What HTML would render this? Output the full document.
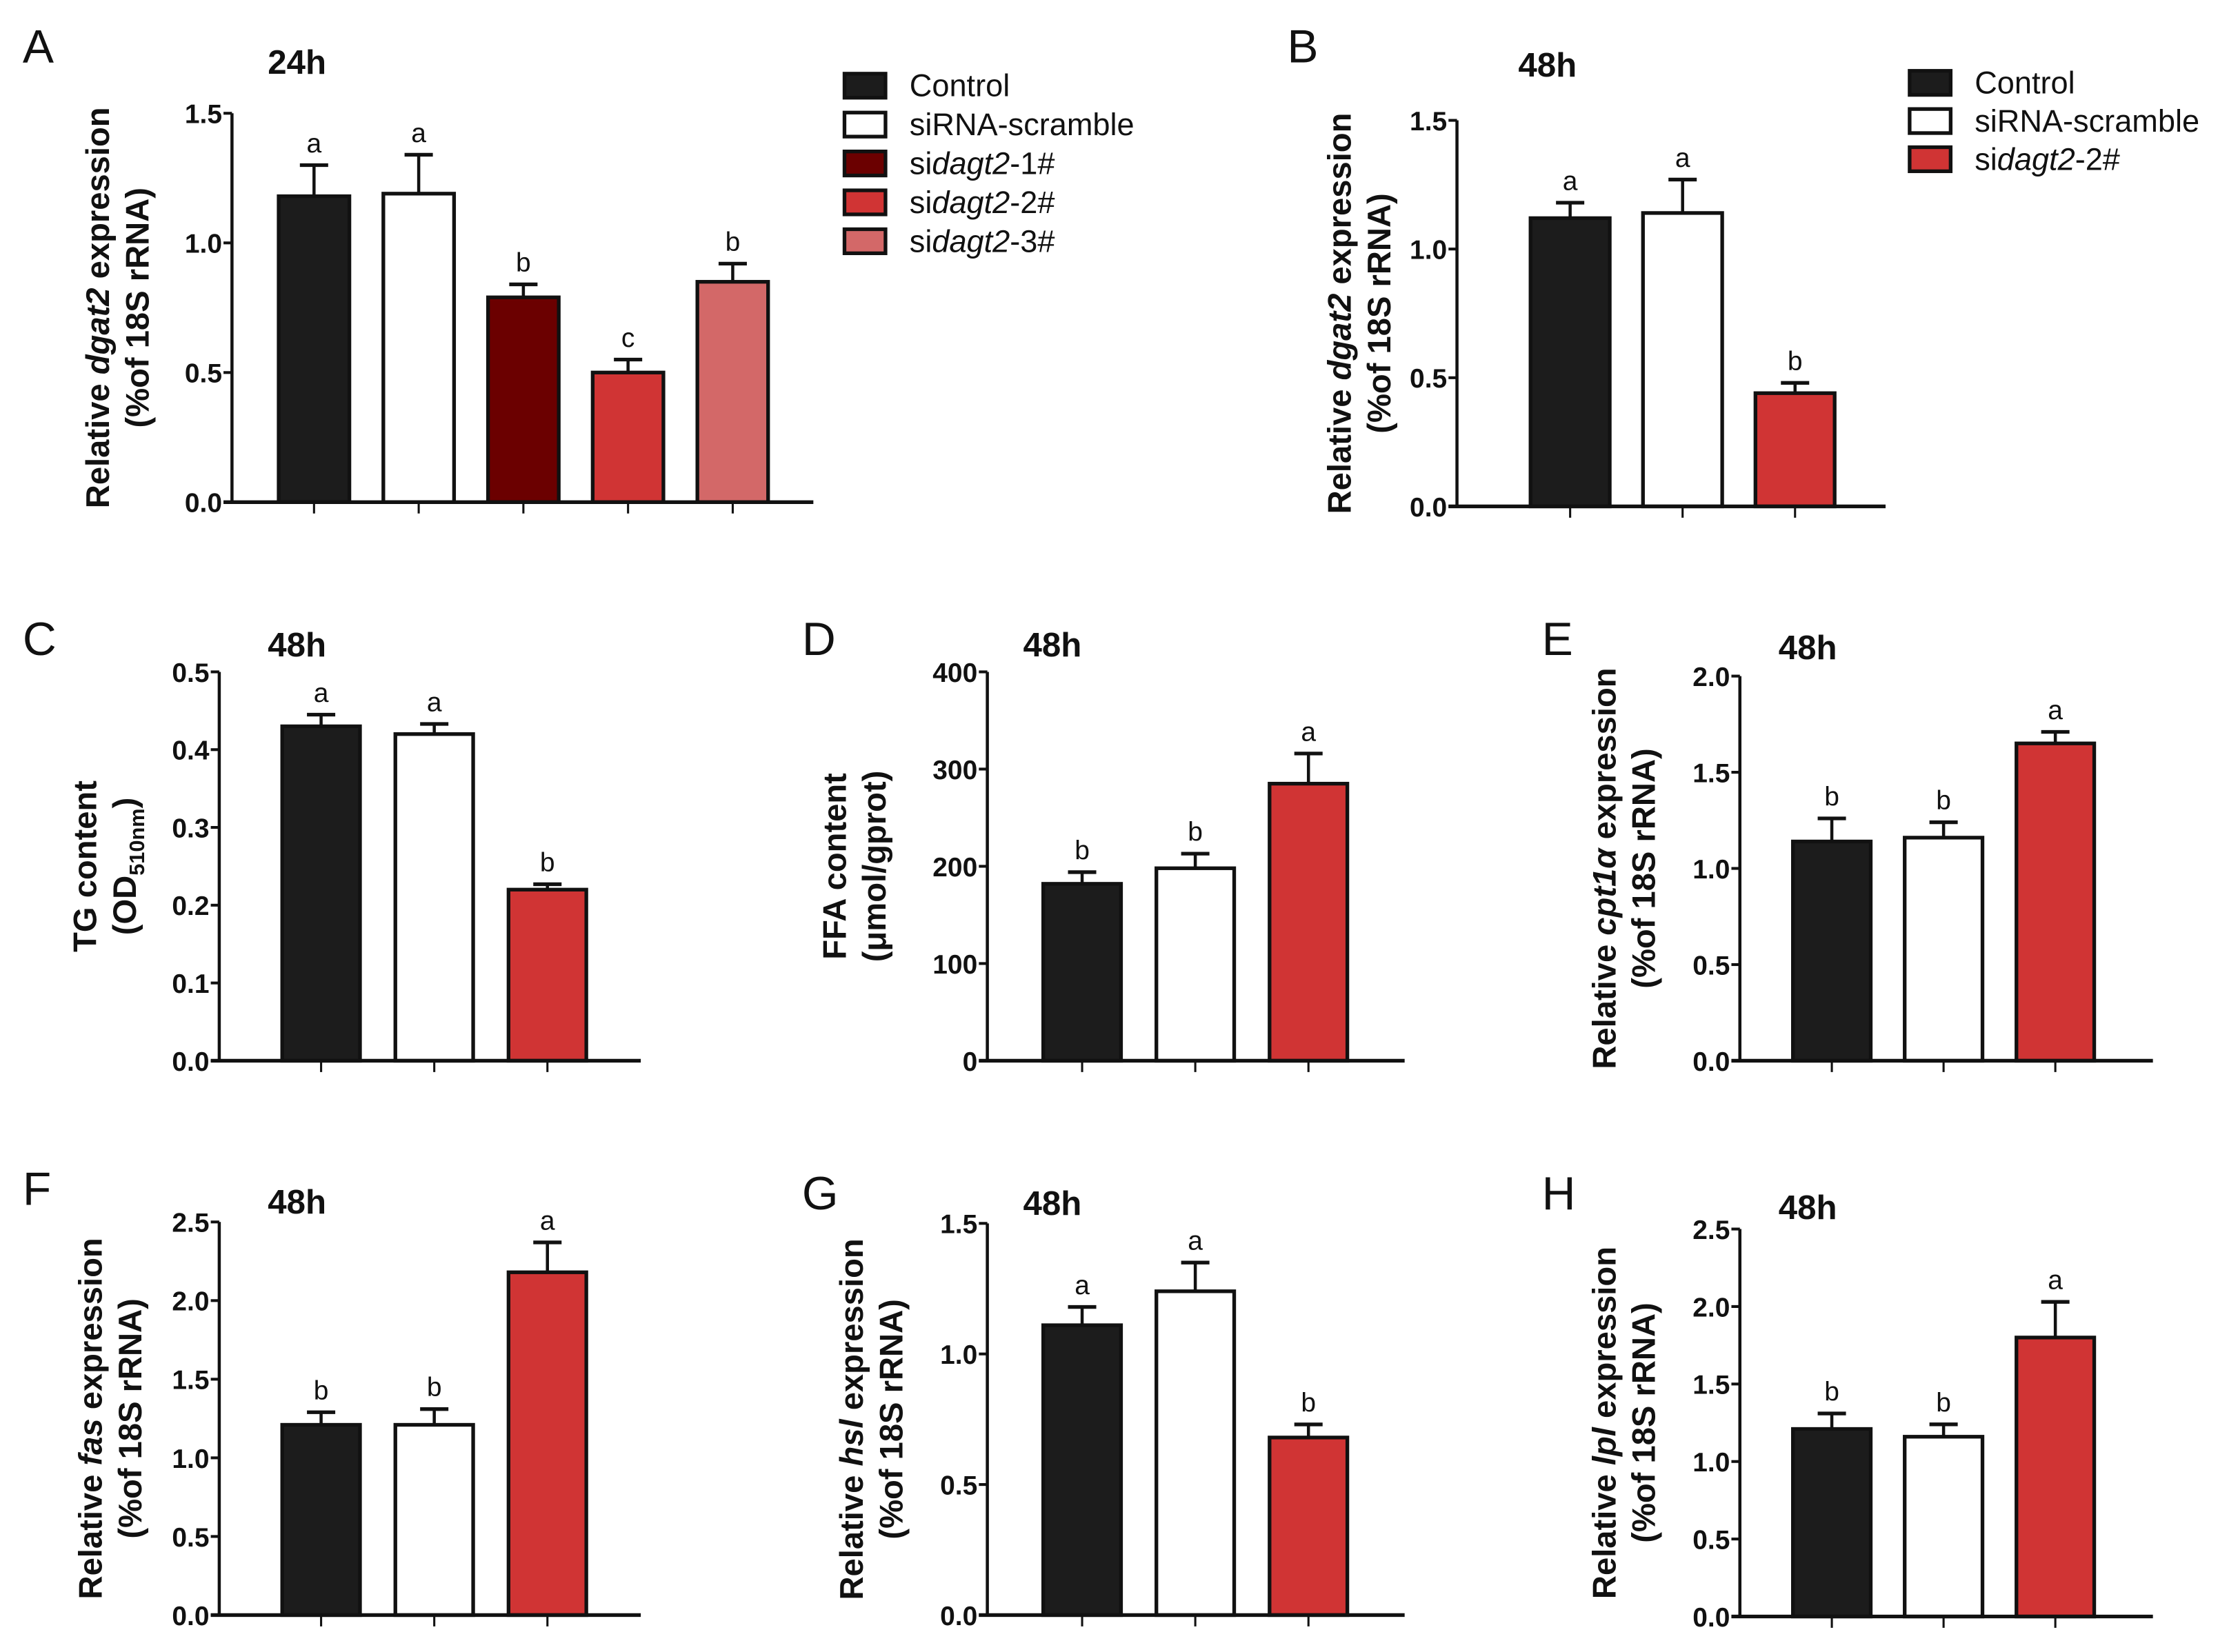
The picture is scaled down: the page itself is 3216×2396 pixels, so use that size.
<!DOCTYPE html>
<html><head><meta charset="utf-8">
<style>
html,body{margin:0;padding:0;background:#fff;}
svg{display:block;}
text{font-family:"Liberation Sans",sans-serif;fill:#111;}
.tick{font-family:"Liberation Sans Narrow","Liberation Sans",sans-serif;font-weight:bold;font-size:19px;}
.ttl{font-family:"Liberation Sans Narrow","Liberation Sans",sans-serif;font-weight:bold;font-size:24px;}
.plab{font-size:33px;}
.ylab{font-weight:bold;font-size:23px;}
.sig{font-size:19px;}
.leg{font-size:22px;}
</style></head>
<body>
<svg id="fig" width="3216" height="2396" viewBox="0 0 1568 1168" xmlns="http://www.w3.org/2000/svg"></svg>
<script>
// ---- Data ----
const groupsA = ["Control","siRNA-scramble","sidagt2-1#","sidagt2-2#","sidagt2-3#"];
const valuesA = [1.18,1.19,0.79,0.50,0.85];
const errA = [0.12,0.15,0.05,0.05,0.07];
const sigA = ["a","a","b","c","b"];
const ticksA = [0,0.5,1.0,1.5];

const groups3 = ["Control","siRNA-scramble","sidagt2-2#"];
const valuesB = [1.12,1.14,0.44];
const errB = [0.06,0.13,0.04];
const sigB = ["a","a","b"];
const ticksB = [0,0.5,1.0,1.5];

const valuesC = [0.43,0.42,0.22];
const errC = [0.015,0.013,0.007];
const sigC = ["a","a","b"];
const ticksC = [0,0.1,0.2,0.3,0.4,0.5];

const valuesD = [182,198,285];
const errD = [12,15,31];
const sigD = ["b","b","a"];
const ticksD = [0,100,200,300,400];

const valuesE = [1.14,1.16,1.65];
const errE = [0.12,0.08,0.06];
const sigE = ["b","b","a"];
const ticksE = [0,0.5,1.0,1.5,2.0];

const valuesF = [1.21,1.21,2.18];
const errF = [0.08,0.10,0.19];
const sigF = ["b","b","a"];
const ticksF = [0,0.5,1.0,1.5,2.0,2.5];

const valuesG = [1.11,1.24,0.68];
const errG = [0.07,0.11,0.05];
const sigG = ["a","a","b"];
const ticksG = [0,0.5,1.0,1.5];

const valuesH = [1.21,1.16,1.80];
const errH = [0.10,0.08,0.23];
const sigH = ["b","b","a"];
const ticksH = [0,0.5,1.0,1.5,2.0,2.5];

const colors5 = ["#1c1c1c","#ffffff","#6b0000","#d03434","#d36868"];
const colors3 = ["#1c1c1c","#ffffff","#d03434"];

const NS="http://www.w3.org/2000/svg";
const svg=document.getElementById('fig');
function el(tag,attrs,parent){const e=document.createElementNS(NS,tag);for(const k in attrs)e.setAttribute(k,attrs[k]);(parent||svg).appendChild(e);return e;}
function fmt(v,dec){return dec===0?String(v):v.toFixed(dec);}

function panel(cfg){
  const g=el('g',{});
  
  
  const ymax=cfg.ticks[cfg.ticks.length-1];
  const ys=v=>cfg.y0-(v/ymax)*(cfg.y0-cfg.ytop);
  const pl=el('text',{x:cfg.lx,y:cfg.ly,class:'plab'},g);pl.textContent=cfg.id;
  
  
  const tt=el('text',{x:cfg.tx,y:cfg.ty,class:'ttl','text-anchor':'middle'},g);tt.textContent=cfg.title;
  
  
  cfg.values.forEach((v,i)=>{
    const cx=cfg.x0+cfg.first+i*cfg.step;
    const w=cfg.bw;
    const top=ys(v), etop=ys(v+cfg.err[i]);
    const ln=el('line',{x1:cx,y1:top,x2:cx,y2:etop,stroke:'#111','stroke-width':2.2},g);
    
    
    el('line',{x1:cx-10,y1:etop,x2:cx+10,y2:etop,stroke:'#111','stroke-width':2.6},g);
    const r=el('rect',{x:cx-w/2,y:top,width:w,height:cfg.y0-top,fill:cfg.colors[i],stroke:'#111','stroke-width':2.6},g);
    
    
    const s=el('text',{x:cx,y:etop-9,class:'sig','text-anchor':'middle'},g);s.textContent=cfg.sig[i];
    
    
    el('line',{x1:cx,y1:cfg.y0,x2:cx,y2:cfg.y0+8,stroke:'#111','stroke-width':1.5},g);
  });
  const ya=el('line',{x1:cfg.x0,y1:cfg.ytop,x2:cfg.x0,y2:cfg.y0,stroke:'#111','stroke-width':2.2},g);
  
  
  const xa=el('line',{x1:cfg.x0-6,y1:cfg.y0,x2:cfg.xend,y2:cfg.y0,stroke:'#111','stroke-width':2.6},g);
  
  
  cfg.ticks.forEach(t=>{
    const y=ys(t);
    el('line',{x1:cfg.x0-6,y1:y,x2:cfg.x0,y2:y,stroke:'#111','stroke-width':2},g);
    const tl=el('text',{x:cfg.x0-7,y:y+7,class:'tick','text-anchor':'end'},g);tl.textContent=fmt(t,cfg.dec);
    
    
  });
  const cy=(cfg.y0+cfg.ytop)/2;
  const yl=el('g',{transform:`translate(${cfg.ylx},${cy}) rotate(-90)`},g);
  
  
  const t1=el('text',{x:0,y:0,class:'ylab','text-anchor':'middle'},yl);t1.innerHTML=cfg.yl1;
  const t2=el('text',{x:0,y:28,class:'ylab','text-anchor':'middle'},yl);t2.innerHTML=cfg.yl2;
}

const relGene=g=>`Relative <tspan font-style="italic">${g}</tspan> expression`;
const pct='(%of 18S rRNA)';

panel({id:'A',title:'24h',lx:16,ly:44,tx:210,ty:52,x0:164,y0:355,ytop:80,xend:575,first:58,step:74,bw:50,values:valuesA,err:errA,sig:sigA,ticks:ticksA,dec:1,colors:colors5,ylx:77,yl1:relGene('dgat2'),yl2:pct});
panel({id:'B',title:'48h',lx:910,ly:44,tx:1094,ty:54,x0:1030,y0:358,ytop:85,xend:1333,first:80,step:79.5,bw:56,values:valuesB,err:errB,sig:sigB,ticks:ticksB,dec:1,colors:colors3,ylx:955,yl1:relGene('dgat2'),yl2:pct});
panel({id:'C',title:'48h',lx:16,ly:463,tx:210,ty:464,x0:155,y0:750,ytop:475,xend:453,first:72,step:80,bw:55,values:valuesC,err:errC,sig:sigC,ticks:ticksC,dec:1,colors:colors3,ylx:68,yl1:'TG content',yl2:'(OD<tspan font-size="15" dy="6">510nm</tspan><tspan dy="-6">)</tspan>'});
panel({id:'D',title:'48h',lx:567,ly:463,tx:744,ty:464,x0:698,y0:750,ytop:475,xend:993,first:67,step:80,bw:55,values:valuesD,err:errD,sig:sigD,ticks:ticksD,dec:0,colors:colors3,ylx:598,yl1:'FFA content',yl2:'(μmol/gprot)'});
panel({id:'E',title:'48h',lx:1090,ly:463,tx:1278,ty:466,x0:1230,y0:750,ytop:478,xend:1522,first:65,step:79,bw:55,values:valuesE,err:errE,sig:sigE,ticks:ticksE,dec:1,colors:colors3,ylx:1142,yl1:relGene('cpt1α'),yl2:pct});
panel({id:'F',title:'48h',lx:16,ly:852,tx:210,ty:858,x0:155,y0:1142,ytop:864,xend:453,first:72,step:80,bw:55,values:valuesF,err:errF,sig:sigF,ticks:ticksF,dec:1,colors:colors3,ylx:72,yl1:relGene('fas'),yl2:pct});
panel({id:'G',title:'48h',lx:567,ly:855,tx:744,ty:859,x0:698,y0:1142,ytop:865,xend:993,first:67,step:80,bw:55,values:valuesG,err:errG,sig:sigG,ticks:ticksG,dec:1,colors:colors3,ylx:610,yl1:relGene('hsl'),yl2:pct});
panel({id:'H',title:'48h',lx:1090,ly:855,tx:1278,ty:862,x0:1230,y0:1143,ytop:869,xend:1522,first:65,step:79,bw:55,values:valuesH,err:errH,sig:sigH,ticks:ticksH,dec:1,colors:colors3,ylx:1142,yl1:relGene('lpl'),yl2:pct});

function legend(x,y0,dy,names,cols,name){
  const g=el('g',{});
  
  
  names.forEach((n,i)=>{
    const y=y0+i*dy;
    const e=el('g',{},g);
    
    
    el('rect',{x:x,y:y-8,width:29,height:17,fill:cols[i],stroke:'#111','stroke-width':2.6},e);
    const t=el('text',{x:x+46,y:y+8,class:'leg'},e);
    t.innerHTML=n.startsWith('si')&&n!=='siRNA-scramble'?'si<tspan font-style="italic">dagt2</tspan>'+n.slice(7):n;
  });
}
legend(597,60,27.5,groupsA,colors5,'legend-a');
legend(1350,58,27,groups3,colors3,'legend-b');
</script>
</body></html>
